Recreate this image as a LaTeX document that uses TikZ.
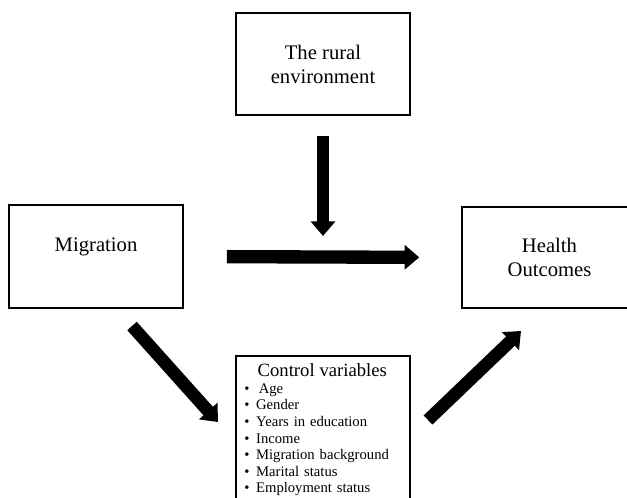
\documentclass[tikz,border=0pt]{standalone}
\usepackage{fontspec}
\setmainfont{Liberation Serif}
\usetikzlibrary{arrows.meta,positioning}

\begin{document}
\begin{tikzpicture}[
		x=0.75pt, y=-0.75pt,
		box/.style={draw, line width=1.4pt, minimum width=131pt, align=center, font=\fontsize{15.5}{18}\selectfont},
		fat/.style={line width=9.5pt, -{Triangle[width=18pt,length=11pt]}},
		]
		\useasboundingbox (0,0) rectangle (627,498);
		\clip (0,0) rectangle (627,498);
		\node[box, minimum height=76.5pt] (rural) at (323,64) {The rural\\environment};
		\node[box, minimum height=77pt] (migr) at (96,256.5) {\raisebox{7pt}[\height][\depth]{Migration}};
		\node[box, minimum height=76pt] (health) at (549.5,257.5) {Health\\Outcomes};
		\node[box, anchor=north, align=left, text width=118pt, inner xsep=6pt, inner ysep=6pt,
			font=\fontsize{11}{12.4}\selectfont] (ctrl) at (323,355) {%
			\hspace*{10pt}{\fontsize{14}{12.4}\selectfont Control variables}\\
			\textbullet\hspace{7pt}Age\\
			\textbullet\hspace{5pt}Gender\\
			\textbullet\hspace{5pt}Years in education\\
			\textbullet\hspace{5pt}Income\\
			\textbullet\hspace{5pt}Migration background\\
			\textbullet\hspace{5pt}Marital status\\
			\textbullet\hspace{5pt}Employment status};
		\coordinate (meet) at (323,257);
		\coordinate (d1) at (132,326);
		\coordinate (d2) at (218,422);
		\coordinate (u1) at (428,420);
		\coordinate (u2) at (521,331);
		\draw[fat, line width=9pt, shorten <=15pt, shorten >=15.75pt] (rural.south) -- (meet);
		\draw[fat, line width=10pt, shorten <=32pt, shorten >=31.5pt] (migr.east) -- (health.west);
		\draw[fat] (d1) -- (d2);
		\draw[fat] (u1) -- (u2);
\end{tikzpicture}
\end{document}
